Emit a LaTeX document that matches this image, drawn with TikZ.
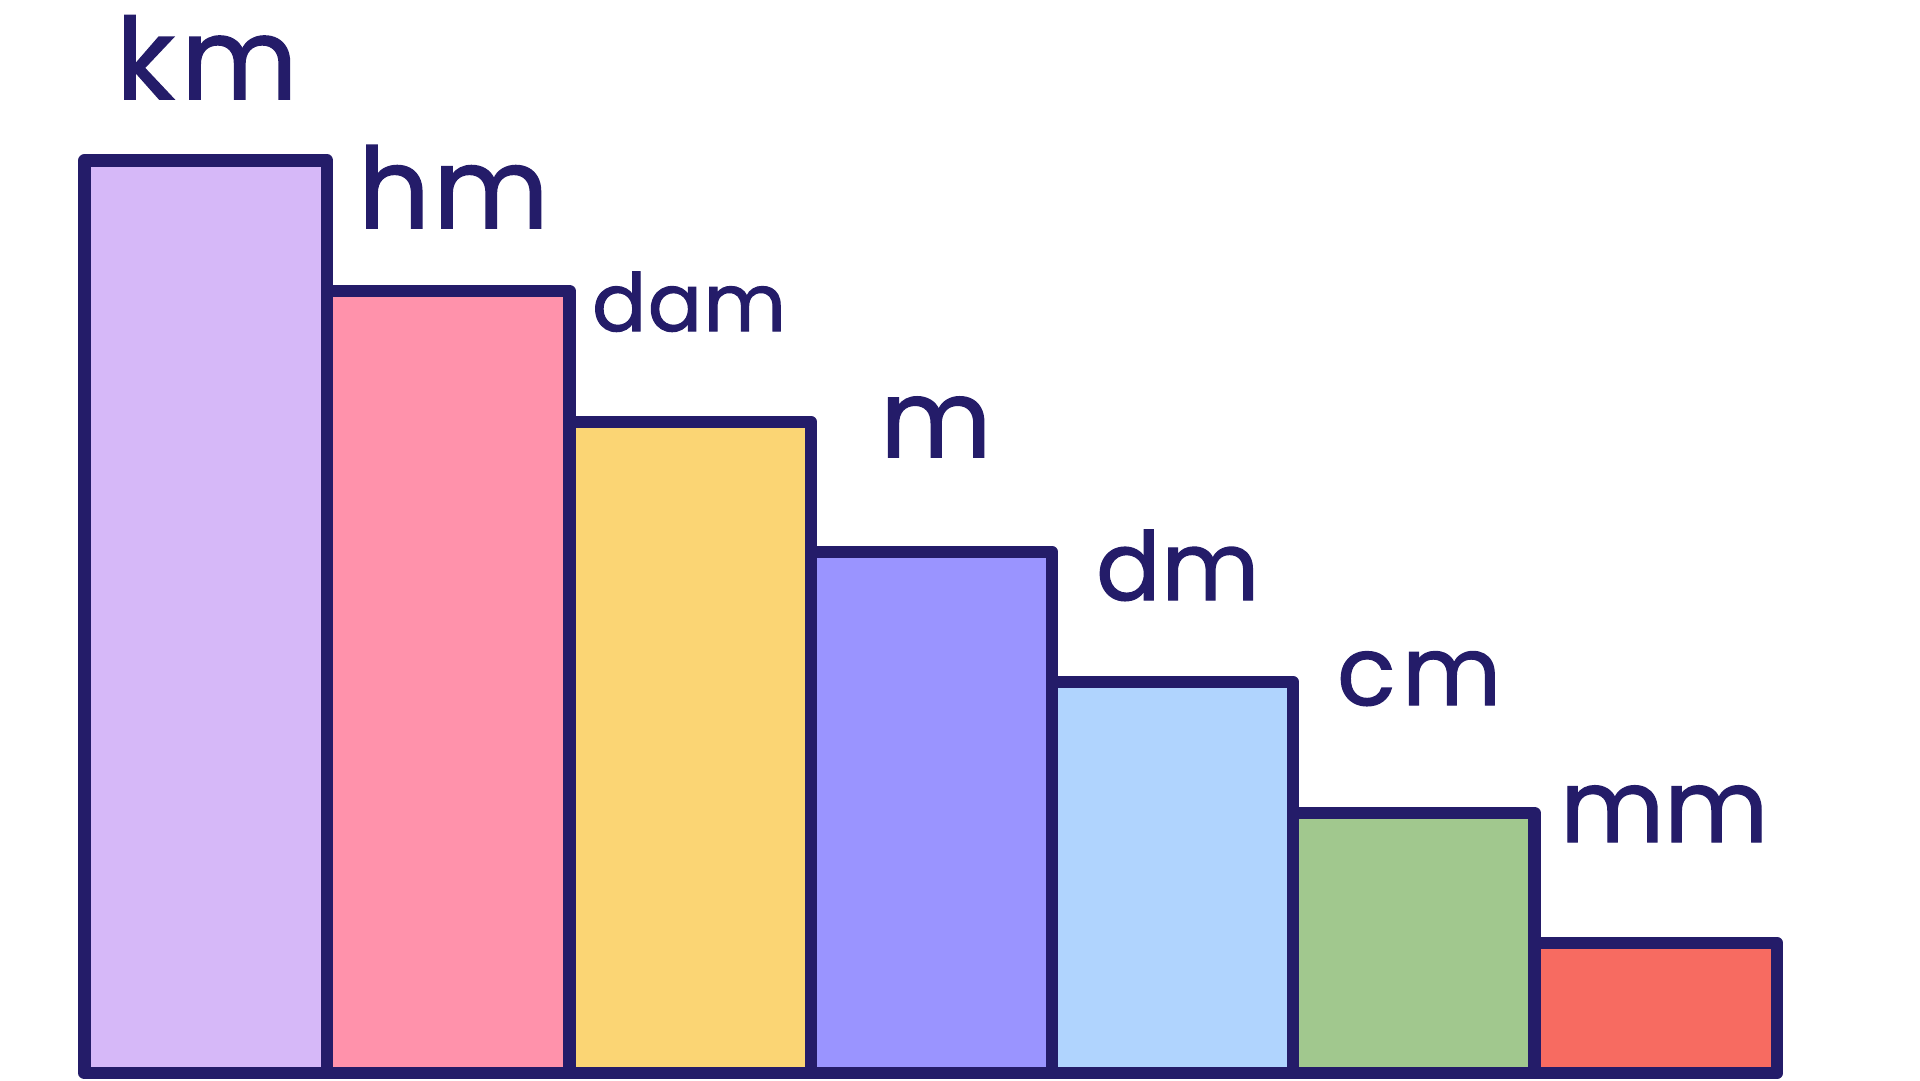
\documentclass[tikz,border=0pt]{standalone}
\usepackage{fontspec}
\setmainfont{Poppins}
\newfontfamily\labfont{Poppins}[FakeBold=1.4]
\definecolor{navy}{HTML}{241C69}
\definecolor{cpurple}{HTML}{D6B8F8}
\definecolor{cpink}{HTML}{FF92AB}
\definecolor{cyellow}{HTML}{FBD574}
\definecolor{cperi}{HTML}{9A94FF}
\definecolor{cblue}{HTML}{B0D4FE}
\definecolor{cgreen}{HTML}{A1C88E}
\definecolor{cred}{HTML}{F76B61}
\begin{document}
\begin{tikzpicture}[x=1pt,y=-1pt,
  bar/.style={draw=navy,line width=12.5pt,line join=round},
  lab/.style={anchor=base west,inner sep=0pt,text=navy,font=\labfont}]
\useasboundingbox (0,0) rectangle (1920,1080);
\fill[white] (0,0) rectangle (1920,1080);
\path[bar,fill=cpurple] (84.5,160.5) rectangle (327,1073);
\path[bar,fill=cpink]   (327,291)   rectangle (569.5,1073);
\path[bar,fill=cyellow] (569.5,422) rectangle (811,1073);
\path[bar,fill=cperi]   (811,552)   rectangle (1052,1073);
\path[bar,fill=cblue]   (1052,682)  rectangle (1293,1073);
\path[bar,fill=cgreen]  (1293,813)  rectangle (1534.5,1073);
\path[bar,fill=cred]    (1534.5,943) rectangle (1777,1073);
\node[lab] (km) at (116,99) {\fontsize{113}{113}\selectfont\addfontfeatures{LetterSpace=6}km};
\node[lab] (hm) at (358,228) {\fontsize{112}{112}\selectfont\addfontfeatures{LetterSpace=3}hm};
\node[lab] (dam) at (592,331) {\fontsize{80}{80}\selectfont\addfontfeatures{LetterSpace=2}dam};
\node[lab] (m) at (880,457) {\fontsize{108}{108}\selectfont m};
\node[lab] (dm) at (1096,600) {\fontsize{95}{95}\selectfont\addfontfeatures{LetterSpace=1}dm};
\node[lab] (cm) at (1337,705) {\fontsize{96}{96}\selectfont\addfontfeatures{LetterSpace=7}cm};
\node[lab] (mm) at (1560,842) {\fontsize{101}{101}\selectfont\addfontfeatures{LetterSpace=0}mm};
\end{tikzpicture}
\end{document}
